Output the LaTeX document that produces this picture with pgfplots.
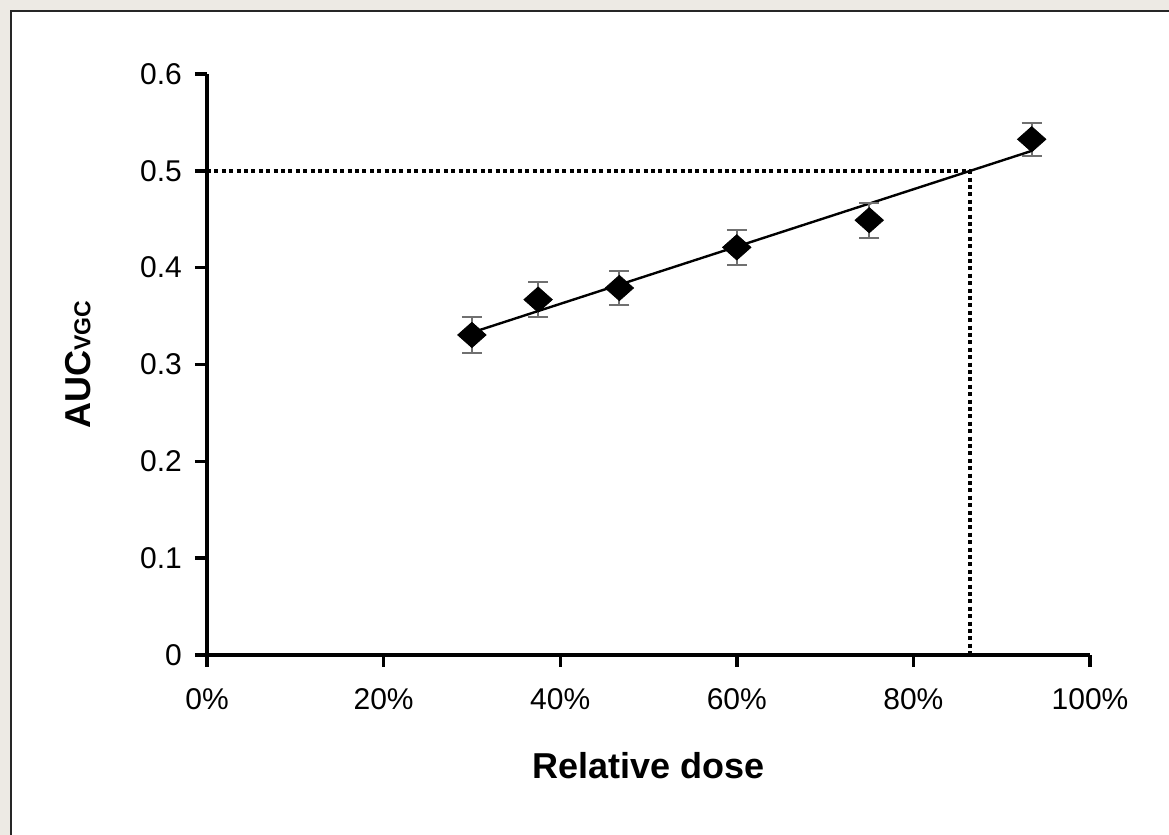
\documentclass[border=0pt]{standalone}
\usepackage{pgfplots}
\pgfplotsset{compat=1.18}
\usepackage{fontspec}
\setmainfont{Liberation Sans}
\definecolor{bgframe}{HTML}{EDEAE4}
\definecolor{errgray}{HTML}{707070}
\pgfplotstableread{
x y e
30 0.3305 0.019
37.5 0.367 0.018
46.7 0.379 0.018
60 0.421 0.018
75 0.449 0.018
93.4 0.5326 0.017
}\datatable
\begin{document}
\begin{tikzpicture}
\fill[bgframe] (0pt,0pt) rectangle (584.5pt,417.5pt);
\fill[white] (5pt,0pt) rectangle (584.5pt,412.5pt);
\draw[line width=1pt, black!85] (5.5pt,0pt) -- (5.5pt,412pt) -- (584.5pt,412pt);
\begin{axis}[
  at={(103.5pt,90pt)}, anchor=south west, scale only axis,
  width=441.5pt, height=290.5pt,
  xmin=0, xmax=100, ymin=0, ymax=0.6,
  axis lines*=left,
  axis line style={line width=1.7pt},
  xtick={0,20,40,60,80,100},
  xticklabels={0\%,20\%,40\%,60\%,80\%,100\%},
  ytick={0,0.1,0.2,0.3,0.4,0.5,0.6},
  yticklabels={0,0.1,0.2,0.3,0.4,0.5,0.6},
  tick align=outside, major tick length=6pt,
  tick style={line width=1.7pt, black},
  ticklabel style={font=\fontsize{15}{17}\selectfont},
  xticklabel style={yshift=-7pt},
  yticklabel style={xshift=-3pt},
  /pgf/number format/assume math mode=true,
  xlabel={Relative dose},
  ylabel={AUC{\fontsize{11.5}{12}\selectfont VGC}},
  label style={font=\bfseries\fontsize{18}{20}\selectfont},
  x label style={at={(axis description cs:0.5,-0.19)}, anchor=center},
  y label style={at={(axis description cs:-0.146,0.5)}, anchor=center},
  clip=false,
]
\addplot[black, line width=1.8pt, dash pattern=on 2pt off 1.7pt, no marks] coordinates {(0,0.5) (86.4,0.5) (86.4,0)};
\addplot[black, line width=1.2pt, no marks] coordinates {(30,0.333) (93.4,0.5206)};
\addplot[only marks, black, mark=diamond*, mark size=6.3pt, mark options={xscale=1.5, fill=black},
  error bars/.cd, y dir=both, y explicit,
  error bar style={errgray, line width=1pt},
  error mark options={rotate=90, mark size=5pt, errgray, line width=1pt}]
  table[x=x, y=y, y error=e] {\datatable};
\end{axis}
\pgfresetboundingbox
\useasboundingbox (0pt,0pt) rectangle (584.5pt,417.5pt);
\end{tikzpicture}
\end{document}
